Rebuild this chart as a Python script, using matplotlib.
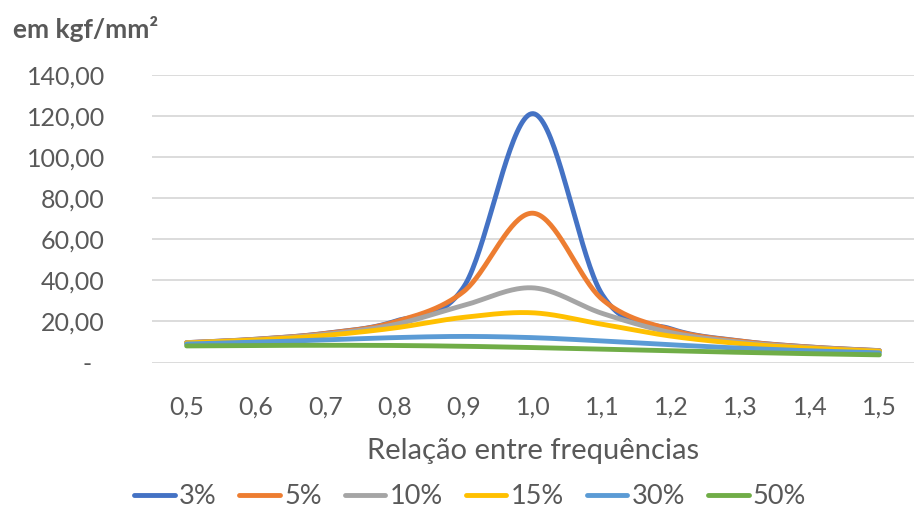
import numpy as np
import matplotlib.pyplot as plt
from matplotlib.ticker import FixedLocator, FuncFormatter

plt.rcParams['font.family'] = ['Lato', 'DejaVu Sans']

# relação entre frequências (categorias do eixo x)
relacao = [0.5, 0.6, 0.7, 0.8, 0.9, 1.0, 1.1, 1.2, 1.3, 1.4, 1.5]

# tensão em kgf/mm² para cada amortecimento
s_3 = [9.69, 11.34, 14.21, 20.02, 36.80, 121.20, 33.00, 16.30, 10.47, 7.54, 5.80]
s_5 = [9.67, 11.31, 14.12, 19.71, 34.60, 72.70, 30.70, 15.90, 10.35, 7.49, 5.77]
s_10 = [9.61, 11.16, 13.75, 18.45, 27.80, 36.35, 23.90, 14.50, 9.86, 7.27, 5.66]
s_15 = [9.50, 10.94, 13.18, 16.80, 22.00, 24.20, 18.60, 12.80, 9.17, 6.94, 5.47]
s_30 = [9.00, 9.90, 11.00, 12.12, 12.70, 12.10, 10.50, 8.62, 6.98, 5.70, 4.72]
s_50 = [8.07, 8.29, 8.39, 8.29, 7.90, 7.27, 6.49, 5.69, 4.94, 4.28, 3.72]

series = [s_3, s_5, s_10, s_15, s_30, s_50]
nomes = ['3%', '5%', '10%', '15%', '30%', '50%']
cores = ['#4472C4', '#ED7D31', '#A5A5A5', '#FFC000', '#5B9BD5', '#70AD47']

texto = '#595959'


def suaviza(x, y, n=40):
    # linha suavizada tipo Excel (Catmull-Rom entre os pontos)
    x = np.asarray(x, float)
    y = np.asarray(y, float)
    px = np.concatenate([[x[0]], x, [x[-1]]])
    py = np.concatenate([[y[0]], y, [y[-1]]])
    xs, ys = [], []
    t = np.linspace(0, 1, n)
    for i in range(1, len(px) - 2):
        for p, out in ((px, xs), (py, ys)):
            p0, p1, p2, p3 = p[i - 1], p[i], p[i + 1], p[i + 2]
            c1 = p1 + (p2 - p0) / 6
            c2 = p2 - (p3 - p1) / 6
            b = ((1 - t) ** 3 * p1 + 3 * (1 - t) ** 2 * t * c1
                 + 3 * (1 - t) * t ** 2 * c2 + t ** 3 * p2)
            out.extend(b)
    return np.array(xs), np.array(ys)


fig = plt.figure(figsize=(9.14, 5.14), dpi=100)
ax = fig.add_axes([152 / 914, 1 - 362.5 / 514, 1 - 152 / 914, (362.5 - 75) / 514])

for ys, nome, cor in zip(series, nomes, cores):
    sx, sy = suaviza(relacao, ys)
    ax.plot(sx, sy, color=cor, lw=3.5, label=nome, solid_capstyle='round')

ax.set_xlim(0.45, 1.55)
ax.set_ylim(0, 140)
ax.yaxis.set_major_locator(FixedLocator(np.arange(0, 141, 20)))
ax.yaxis.set_major_formatter(FuncFormatter(
    lambda v, p: '-  ' if v == 0 else f'{v:.2f}'.replace('.', ',')))
ax.set_xticks(relacao)
ax.set_xticklabels([f'{v:.1f}'.replace('.', ',') for v in relacao])

ax.grid(axis='y', color='#D9D9D9', lw=1.3)
ax.set_axisbelow(True)
for s in ax.spines.values():
    s.set_visible(False)
ax.tick_params(length=0, labelsize=18, colors=texto)
ax.tick_params(axis='y', pad=34)
ax.tick_params(axis='x', pad=24)

ax.set_xlabel('Relação entre frequências', fontsize=21, color=texto, labelpad=14)
fig.text(13 / 914, 1 - 29 / 514, 'em kgf/mm²', fontsize=19, fontweight='bold',
         color=texto, va='center', ha='left')

fig.legend(loc='center', bbox_to_anchor=(470 / 914, 1 - 497 / 514), ncol=6,
           frameon=False, fontsize=19.5, handlelength=1.5, handletextpad=0.15,
           columnspacing=0.85, labelcolor=texto)

fig.savefig('out.png', dpi=100)
